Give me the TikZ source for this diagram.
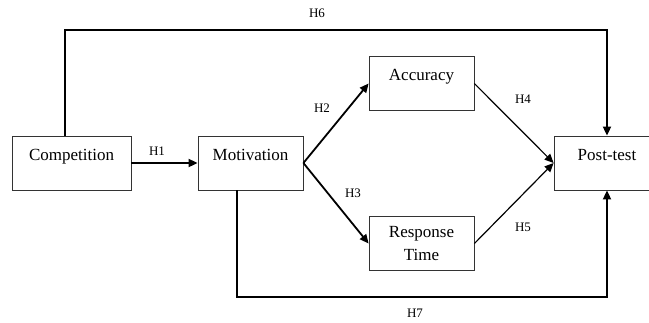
\documentclass[tikz,border=0pt]{standalone}
\usepackage{fontspec}
\setmainfont{Liberation Serif}
\usetikzlibrary{arrows.meta}
\begin{document}
\begin{tikzpicture}[x=1pt,y=-1pt,
  box/.style={draw=black!80, line width=0.8pt, minimum height=54pt, inner sep=0pt, font=\fontsize{17}{20}\selectfont},
  upper/.style={text height=12pt, text depth=18pt},
  thick arrow/.style={line width=1.8pt, -{Triangle[length=9pt,width=8pt]}},
  thin arrow/.style={line width=1.2pt, -{Triangle[length=9pt,width=8pt]}},
  lbl/.style={font=\fontsize{13}{15}\selectfont, inner sep=0pt}]
\useasboundingbox[fill=white] (0,0) rectangle (649,322);
\node[box, upper, minimum width=119pt] (comp) at (71.5,163) {Competition};
\node[box, upper, minimum width=105pt] (mot) at (250.5,163) {Motivation};
\node[box, upper, minimum width=105pt] (acc) at (421.5,83.5) {Accuracy};
\node[box, minimum width=105pt, align=center, font=\fontsize{17}{23}\selectfont] (rt) at (421.5,243.5) {Response\\Time};
\node[box, upper, minimum width=106pt] (post) at (607,163) {Post-test};
\coordinate (h6a) at (65,30);
\coordinate (h6b) at (607,30);
\coordinate (h7a) at (237,297);
\coordinate (h7b) at (607,297);
\draw[thick arrow] (comp.east) -- (mot.west);
\draw[thick arrow] (mot.east) -- (acc.west);
\draw[thick arrow] (mot.east) -- (rt.west);
\draw[thin arrow] (acc.east) -- (post.west);
\draw[thin arrow] (rt.east) -- (post.west);
\draw[thick arrow, rounded corners=0pt] (comp.north -| h6a) -- (h6a) -- (h6b) -- (post.north);
\draw[thick arrow] (mot.south -| h7a) -- (h7a) -- (h7b) -- (post.south);
\node[lbl] (l1) at (157,151) {H1};
\node[lbl] (l2) at (322,108) {H2};
\node[lbl] (l3) at (353,193) {H3};
\node[lbl] (l4) at (523,99) {H4};
\node[lbl] (l5) at (523,227) {H5};
\node[lbl] (l6) at (317,13) {H6};
\node[lbl] (l7) at (415,313) {H7};
\end{tikzpicture}
\end{document}
